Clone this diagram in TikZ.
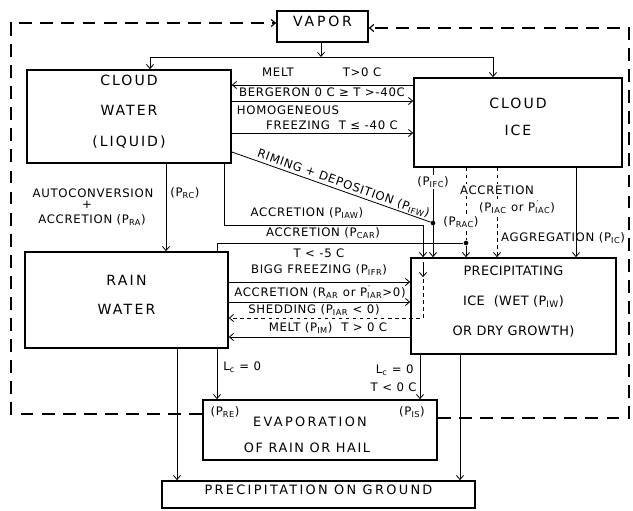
\documentclass[tikz,border=0pt]{standalone}
\usepackage{fontspec}
\setmainfont{DejaVu Sans}
\usepackage{tikz}
\usetikzlibrary{fit, calc, arrows.meta}

\newcommand{\Psub}[1]{P\textsubscript{#1}}
\newcommand{\Pphay}[1]{P\rlap{\textsuperscript{\,′}}\textsubscript{#1}}

\begin{document}
\begin{tikzpicture}[>={Straight Barb[length=3.5pt, width=6pt]}, x=0.03cm, y=-0.03cm,
    hop/.style n args={3}{draw, line width=1.4pt, inner sep=0pt, align=center,
        font=\fontsize{#1}{#2}\selectfont\addfontfeatures{LetterSpace=#3}},
    chu/.style={font=\fontsize{11}{13}\selectfont\addfontfeatures{LetterSpace=#1}},
    nhan/.style={font=\fontsize{10}{12}\selectfont\addfontfeatures{LetterSpace=6}, inner sep=1pt},
    nen/.style={fill=white},
    day/.style={line width=0.7pt},
    vong/.style={line width=1pt, dash pattern=on 11pt off 7pt},
    diem/.style={fill, circle, inner sep=0pt, minimum size=4pt}]
    \useasboundingbox (0,0) rectangle (633,511);

    % Các hộp
    \node[hop={12}{13}{20}, fit={(277,11) (368,42)}] (vapor) {VAPOR};
    \node[hop={12}{26}{14}, fit={(27,70) (231,163)}] (cwater) {CLOUD\\WATER\\(LIQUID)};
    \node[hop={12}{23}{14}, fit={(414,78) (622,167)}] (cice) {CLOUD\\ICE};
    \node[hop={12}{25.5}{16}, fit={(25,252) (228,348)}] (rain) {RAIN\\WATER};
    \node[hop={11}{25.5}{3}, fit={(411,258) (616,354)}] (pice) {PRECIPITATING\\ICE\ \ (WET (\Psub{IW})\\OR DRY GROWTH)};
    \node[hop={11}{13}{0}, fit={(203,400) (437,460)}] (evap) {};
    \node[chu=18] (evap1) at (310,422) {EVAPORATION};
    \node[chu=12] (evap2) at (307,448) {OF RAIN OR HAIL};
    \node[nhan] (pre) at (225,412) {(\Psub{RE})};
    \node[nhan] (pis) at (412,412) {(\Psub{IS})};
    \node[hop={11}{13}{18}, fit={(162,481) (475,508)}] (ground) {PRECIPITATION ON GROUND};

    % Hơi nước
    \coordinate (nga) at (321,57);
    \draw[day,->] (vapor.south -| nga) -- (nga);
    \draw[day,->] (nga) -| (cwater.north -| 150,0);
    \draw[day,->] (nga) -| (cice.north -| 493,0);

    % Giữa mây nước và mây băng
    \draw[day,->] (cice.west |- 0,85) -- (cwater.east |- 0,85);
    \draw[day,->] (cwater.east |- 0,101) -- (cice.west |- 0,101);
    \draw[day,->] (cwater.east |- 0,133) -- (cice.west |- 0,133);
    \node[diem] (d1) at (433,223) {};
    \draw[day] (cwater.east |- 0,152) -- node[nhan, sloped, above, pos=0.55] {RIMING + DEPOSITION (\Psub{IFW})} (d1);

    % Xuống băng giáng thủy
    \node[diem] (d2) at (466,243) {};
    \draw[day,->] (cice.south -| d1) -- (pice.north -| d1);
    \draw[day,dashed] (cice.south -| d2) -- (d2);
    \draw[day,->] (d2) -- (pice.north -| d2);
    \draw[day,dashed,->] (cice.south -| 497,0) -- (pice.north -| 497,0);
    \draw[day,->] (cice.south -| 576,0) -- (pice.north -| 576,0);
    \draw[day,->] (cwater.south -| 166,0) -- (rain.north -| 166,0);
    \draw[day,->] (cwater.south -| 224,0) |- (423,225) -- (pice.north -| 423,0);
    \draw[day] (rain.north -| 217,0) |- (d2);

    % Giữa mưa và băng
    \draw[day,->] (rain.east |- 0,282) -- (pice.west |- 0,282);
    \draw[day,->] (rain.east |- 0,302) -- (pice.west |- 0,302);
    \draw[day,->] ($(pice.north -| 423,0)+(0,5)$) -- ++(0,15);
    \draw[day,dashed,->] ($(pice.north -| 423,0)+(0,22)$) |- (rain.east |- 0,318);
    \draw[day,->] (pice.west |- 0,337) -- (rain.east |- 0,337);

    % Xuống dưới
    \draw[day,->] (rain.south -| 177,0) -- (ground.north -| 177,0);
    \draw[day,->] (rain.south -| 217,0) -- (evap.north -| 217,0);
    \draw[day,->] (pice.south -| 420,0) -- (evap.north -| 420,0);
    \draw[day,->] (pice.south -| 460,0) -- (ground.north -| 460,0);

    % Vòng bốc hơi
    \draw[vong,->] (evap.west |- 0,414) -| (11,23) -- (vapor.west |- 0,23);
    \draw[vong,->] (evap.east |- 0,418) -| (629,28) -- (vapor.east |- 0,28);

    % Nhãn
    \node[nhan] (lmelt) at (278,72) {MELT};
    \node[nhan] (lmeltT) at (362,72) {T>0 C};
    \node[nhan] (lberg) at (322,92) {BERGERON 0 C ≥ T >-40C};
    \node[nhan] (lhomo) at (288,110) {HOMOGENEOUS};
    \node[nhan] (lfrz) at (332,125) {FREEZING\ \ T ≤ -40 C};
    \node[nhan] (lauto) at (93,193) {AUTOCONVERSION};
    \node[nhan, anchor=west] (lprc) at (169,193) {(\Psub{RC})};
    \node[nhan] (lcong) at (87,205) {+};
    \node[nhan] (lacra) at (92,220) {ACCRETION (\Psub{RA})};
    \node[nhan] (liaw) at (307,213) {ACCRETION (\Psub{IAW})};
    \node[nhan] (lcar) at (323,233) {ACCRETION (\Psub{CAR})};
    \node[nhan] (lt5) at (319,253) {T < -5 C};
    \node[nhan] (lbigg) at (319,270) {BIGG FREEZING (\Psub{IFR})};
    \node[nhan] (liar) at (320,292) {ACCRETION (R\textsubscript{AR} or \Pphay{IAR}>0)};
    \node[nhan] (lshed) at (314,309) {SHEDDING (\Pphay{IAR} < 0)};
    \node[nhan] (lmelt2) at (328,328) {MELT (\Psub{IM})\ \ T > 0 C};
    \node[nhan, nen] (lifc) at (433,182) {(\Psub{IFC})};
    \node[nhan, nen] (lacc) at (497,190) {ACCRETION};
    \node[nhan, nen] (liac) at (517,207) {(\Psub{IAC} or \Pphay{IAC})};
    \node[nhan, nen] (lrac) at (461,222) {(\Psub{RAC})};
    \node[nhan] (lagg) at (563,238) {AGGREGATION (\Psub{IC})};
    \node[nhan, anchor=west] (llc1) at (222,367) {L\textsubscript{c} = 0};
    \node[nhan, anchor=east] (llc2) at (415,370) {L\textsubscript{c} = 0};
    \node[nhan, anchor=east] (lt0) at (418,387) {T < 0 C};
\end{tikzpicture}
\end{document}
